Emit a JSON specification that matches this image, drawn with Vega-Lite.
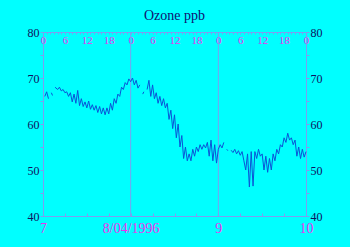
{
  "$schema": "https://vega.github.io/schema/vega-lite/v6.json",
  "width": 263,
  "height": 184,
  "autosize": "none",
  "padding": {"left": 43, "top": 32, "right": 44, "bottom": 31},
  "background": "#00ffff",
  "title": {"text": "Ozone ppb", "font": "Liberation Serif", "fontSize": 14, "fontWeight": "normal", "color": "#101070", "offset": 3, "anchor": "middle"},
  "config": {
    "view": {"stroke": null},
    "axis": {"labelFont": "Liberation Serif", "domainColor": "#7b9ff0", "tickColor": "#7b9ff0", "grid": false, "labelOverlap": false, "labelFlush": false}
  },
  "resolve": {"axis": {"x": "independent", "y": "independent"}},
  "layer": [
    {
      "data": {"values": [{"d": 24}, {"d": 48}]},
      "mark": {"type": "rule", "color": "#7b9ff0", "strokeWidth": 1},
      "encoding": {
        "x": {"field": "d", "type": "quantitative", "scale": {"domain": [0, 72], "nice": false},
          "axis": {"orient": "top", "title": null, "values": [0,1,2,3,4,5,6,7,8,9,10,11,12,13,14,15,16,17,18,19,20,21,22,23,24,25,26,27,28,29,30,31,32,33,34,35,36,37,38,39,40,41,42,43,44,45,46,47,48,49,50,51,52,53,54,55,56,57,58,59,60,61,62,63,64,65,66,67,68,69,70,71,72],
            "labelExpr": "datum.value % 6 == 0 ? '' + (datum.value % 24) : ''", "tickSize": -2, "labelPadding": -11, "labelColor": "#f030f0", "labelFontSize": 11}}
      }
    },
    {
      "data": {"name": "oz"},
      "mark": {"type": "line", "color": "#0b55d6", "strokeWidth": 1, "invalid": "break-paths-show-domains"},
      "encoding": {
        "x": {"field": "h", "type": "quantitative", "scale": {"domain": [0, 72], "nice": false},
          "axis": {"orient": "bottom", "title": null, "values": [0,6,12,18,24,30,36,42,48,54,60,66,72],
            "labelExpr": "datum.value == 0 ? '7' : datum.value == 24 ? '8/04/1996' : datum.value == 48 ? '9' : datum.value == 72 ? '10' : ''",
            "tickSize": -3, "labelPadding": 8, "labelColor": "#f030f0", "labelFontSize": 14}},
        "y": {"field": "v", "type": "quantitative", "scale": {"domain": [40, 80], "nice": false, "zero": false},
          "axis": {"orient": "left", "title": null, "values": [40,45,50,55,60,65,70,75,80],
            "labelExpr": "datum.value % 10 == 0 ? datum.label : ''", "tickSize": 3, "labelPadding": 1, "labelColor": "#101060", "labelFontSize": 12}}
      }
    },
    {
      "data": {"name": "oz"},
      "mark": {"type": "point", "opacity": 0},
      "encoding": {
        "x": {"field": "h", "type": "quantitative", "scale": {"domain": [0, 72], "nice": false}, "axis": null},
        "y": {"field": "v", "type": "quantitative", "scale": {"domain": [40, 80], "nice": false, "zero": false},
          "axis": {"orient": "right", "title": null, "values": [40,45,50,55,60,65,70,75,80],
            "labelExpr": "datum.value % 10 == 0 ? datum.label : ''", "tickSize": 3, "labelPadding": 1, "labelColor": "#101060", "labelFontSize": 12}}
      }
    }
  ],
  "datasets": {
    "oz": [
      {"h": 0.5, "v": 66}, {"h": 1.0, "v": 67}, {"h": 1.5, "v": 65.5}, {"h": 2.0, "v": null},
      {"h": 2.3, "v": 66.8}, {"h": 2.6, "v": 66.2}, {"h": 3.0, "v": null}, {"h": 3.3, "v": 68}, {"h": 4.0, "v": 67.5},
      {"h": 4.5, "v": 68}, {"h": 5.0, "v": 67.2}, {"h": 5.5, "v": 67.5}, {"h": 6.0, "v": 66.8},
      {"h": 6.5, "v": 67}, {"h": 7.0, "v": 66}, {"h": 7.5, "v": 66.8}, {"h": 8.0, "v": 64.8},
      {"h": 8.5, "v": 66.5}, {"h": 9.0, "v": 64.5}, {"h": 9.5, "v": 67.3}, {"h": 10.0, "v": 64},
      {"h": 10.5, "v": 65.5}, {"h": 11.0, "v": 63.8}, {"h": 11.5, "v": 64.8}, {"h": 12.0, "v": 63.5},
      {"h": 12.5, "v": 65}, {"h": 13.0, "v": 63.2}, {"h": 13.5, "v": 64.2}, {"h": 14.0, "v": 63},
      {"h": 14.5, "v": 64}, {"h": 15.0, "v": 62.5}, {"h": 15.5, "v": 63.8}, {"h": 16.0, "v": 62.2},
      {"h": 16.5, "v": 63.5}, {"h": 17.0, "v": 62}, {"h": 17.5, "v": 63.5}, {"h": 18.0, "v": 62.2},
      {"h": 18.5, "v": 64.5}, {"h": 19.0, "v": 63}, {"h": 19.5, "v": 65.5}, {"h": 20.0, "v": 64.5},
      {"h": 20.5, "v": 66.5}, {"h": 21.0, "v": 66}, {"h": 21.5, "v": 68}, {"h": 22.0, "v": 67.5},
      {"h": 22.5, "v": 69}, {"h": 23.0, "v": 68.5}, {"h": 23.5, "v": 69.8}, {"h": 24.0, "v": 69.2},
      {"h": 24.5, "v": 70}, {"h": 25.0, "v": 68.5}, {"h": 25.5, "v": 69.5}, {"h": 26.0, "v": 67.8},
      {"h": 26.5, "v": 68.5}, {"h": 27.0, "v": null}, {"h": 27.3, "v": 66.5}, {"h": 27.6, "v": 67}, {"h": 28.0, "v": null},
      {"h": 28.5, "v": 67.5}, {"h": 29.0, "v": 69.5}, {"h": 29.5, "v": 66}, {"h": 30.0, "v": 68.5},
      {"h": 30.5, "v": 65.5}, {"h": 31.0, "v": 66.8}, {"h": 31.5, "v": 64.5}, {"h": 32.0, "v": 66},
      {"h": 32.5, "v": 64}, {"h": 33.0, "v": 65.5}, {"h": 33.5, "v": 63.5}, {"h": 34.0, "v": 64.5},
      {"h": 34.5, "v": 61}, {"h": 35.0, "v": 63}, {"h": 35.5, "v": 59}, {"h": 36.0, "v": 62},
      {"h": 36.5, "v": 57}, {"h": 37.0, "v": 60}, {"h": 37.5, "v": 55}, {"h": 38.0, "v": 57.5},
      {"h": 38.5, "v": 52.5}, {"h": 39.0, "v": 55}, {"h": 39.5, "v": 52}, {"h": 40.0, "v": 53.5},
      {"h": 40.5, "v": 52}, {"h": 41.0, "v": 54.5}, {"h": 41.5, "v": 53}, {"h": 42.0, "v": 55},
      {"h": 42.5, "v": 54}, {"h": 43.0, "v": 55.5}, {"h": 43.5, "v": 54.5}, {"h": 44.0, "v": 55.5},
      {"h": 44.5, "v": 54.8}, {"h": 45.0, "v": 56}, {"h": 45.5, "v": 53}, {"h": 46.0, "v": 56.5},
      {"h": 46.5, "v": 52}, {"h": 47.0, "v": 55.5}, {"h": 47.5, "v": 51.5}, {"h": 48.0, "v": 54.5},
      {"h": 48.5, "v": 55.5}, {"h": 49.0, "v": 54.8}, {"h": 49.5, "v": 56}, {"h": 50.0, "v": null},
      {"h": 50.3, "v": 54.5}, {"h": 50.6, "v": 54.2}, {"h": 51.0, "v": null}, {"h": 51.5, "v": 54.3}, {"h": 52.0, "v": 53.8},
      {"h": 52.5, "v": 54.5}, {"h": 53.0, "v": 53.5}, {"h": 53.5, "v": 54.2}, {"h": 54.0, "v": 53.2},
      {"h": 54.5, "v": 54}, {"h": 55.0, "v": 52}, {"h": 55.5, "v": 50}, {"h": 56.0, "v": 53.5},
      {"h": 56.5, "v": 46.3}, {"h": 57.0, "v": 54}, {"h": 57.5, "v": 46.5}, {"h": 58.0, "v": 54},
      {"h": 58.5, "v": 52.5}, {"h": 59.0, "v": 54.5}, {"h": 59.5, "v": 53}, {"h": 60.0, "v": 53.5},
      {"h": 60.5, "v": 50}, {"h": 61.0, "v": 53}, {"h": 61.5, "v": 49.5}, {"h": 62.0, "v": 52.5},
      {"h": 62.5, "v": 50}, {"h": 63.0, "v": 53.5}, {"h": 63.5, "v": 52}, {"h": 64.0, "v": 54.5},
      {"h": 64.5, "v": 53.5}, {"h": 65.0, "v": 55.5}, {"h": 65.5, "v": 55}, {"h": 66.0, "v": 57},
      {"h": 66.5, "v": 56}, {"h": 67.0, "v": 58}, {"h": 67.5, "v": 56.5}, {"h": 68.0, "v": 57},
      {"h": 68.5, "v": 55.5}, {"h": 69.0, "v": 56.5}, {"h": 69.5, "v": 53}, {"h": 70.0, "v": 55},
      {"h": 70.5, "v": 52.5}, {"h": 71.0, "v": 54.5}, {"h": 71.5, "v": 52.8}, {"h": 72.0, "v": 54}
    ]
  }
}
